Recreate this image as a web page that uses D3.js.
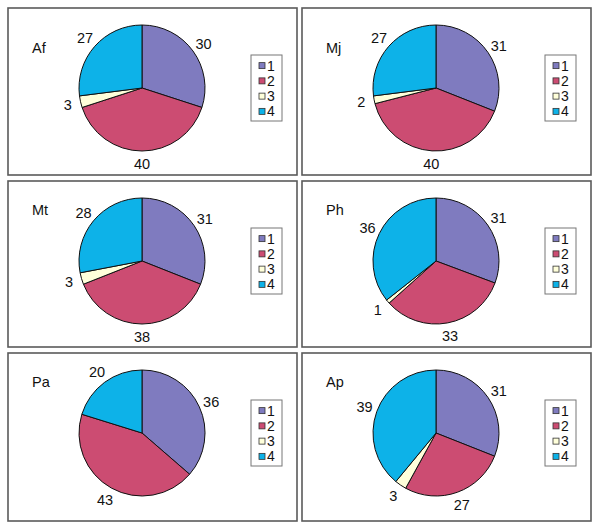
<!DOCTYPE html>
<html>
<head>
<meta charset="utf-8">
<script src="https://cdn.jsdelivr.net/npm/d3@7"></script>
<style>
  body { margin: 0; background: #fff; }
  text { font-family: "Liberation Sans", Arial, sans-serif; fill: #111; }
</style>
</head>
<body>
<div id="chart"></div>
<script>
// chart data
var categories = ["1", "2", "3", "4"];
var panelNames = ["Af", "Mj", "Mt", "Ph", "Pa", "Ap"];
var afValues = [30, 40, 3, 27];
var mjValues = [31, 40, 2, 27];
var mtValues = [31, 38, 3, 28];
var phValues = [31, 33, 1, 36];
var paValues = [36, 43, 0, 20];
var apValues = [31, 27, 3, 39];
var panelValues = [afValues, mjValues, mtValues, phValues, paValues, apValues];
var sliceColors = ["#7f7bbf", "#cc4c72", "#ffffda", "#0db2e8"];

var W = 600, H = 529;

var svg = d3.select("#chart").append("svg")
  .attr("width", W)
  .attr("height", H);

// panel frames
var colX = [8, 302];
var rowY = [8, 181, 353];
var panelW = 289;
var rowH = [167, 166, 168];

var color = d3.scaleOrdinal().domain(categories).range(sliceColors);
var pie = d3.pie().sort(null).value(function(d) { return d.value; });
var radius = 63;
var arc = d3.arc().innerRadius(0).outerRadius(radius);
var labelArc = d3.arc().innerRadius(76).outerRadius(76);

panelNames.forEach(function(name, i) {
  var col = i % 2, row = Math.floor(i / 2);
  var px = colX[col], py = rowY[row];
  var g = svg.append("g").attr("transform", "translate(" + px + "," + py + ")");

  g.append("rect")
    .attr("width", panelW)
    .attr("height", rowH[row])
    .attr("fill", "#fff")
    .attr("stroke", "#5a5a5a")
    .attr("stroke-width", 1.6);

  // panel name
  g.append("text")
    .attr("x", 24)
    .attr("y", row === 0 ? 45 : 34)
    .style("font-size", "14.5px")
    .text(name);

  var cx = 134, cy = 80;
  var data = categories.map(function(c, k) { return { cat: c, value: panelValues[i][k] }; });
  var arcs = pie(data);

  var pg = g.append("g").attr("transform", "translate(" + cx + "," + cy + ")");
  pg.selectAll("path")
    .data(arcs.filter(function(d) { return d.data.value > 0; }))
    .enter().append("path")
    .attr("d", arc)
    .attr("fill", function(d) { return color(d.data.cat); })
    .attr("stroke", "#111")
    .attr("stroke-width", 1);

  pg.selectAll(".lbl")
    .data(arcs.filter(function(d) { return d.data.value > 0; }))
    .enter().append("text")
    .attr("class", "lbl")
    .attr("transform", function(d) { return "translate(" + labelArc.centroid(d) + ")"; })
    .attr("text-anchor", "middle")
    .attr("dy", "0.36em")
    .style("font-size", "14.5px")
    .text(function(d) { return d.data.value; });

  // legend
  var lg = g.append("g").attr("transform", "translate(243," + (cy - 33) + ")");
  lg.append("rect")
    .attr("width", 31)
    .attr("height", 66)
    .attr("fill", "#fff")
    .attr("stroke", "#777")
    .attr("stroke-width", 1);

  var ly = d3.scaleBand().domain(categories).range([3, 64]);
  var items = lg.selectAll(".item")
    .data(categories)
    .enter().append("g")
    .attr("transform", function(d) { return "translate(0," + (ly(d) + ly.bandwidth() / 2) + ")"; });
  items.append("rect")
    .attr("x", 8)
    .attr("y", -3)
    .attr("width", 6)
    .attr("height", 6)
    .attr("fill", function(d) { return color(d); })
    .attr("stroke", "#333")
    .attr("stroke-width", 0.8);
  items.append("text")
    .attr("x", 16)
    .attr("dy", "0.36em")
    .style("font-size", "14px")
    .text(function(d) { return d; });
});
</script>
</body>
</html>
